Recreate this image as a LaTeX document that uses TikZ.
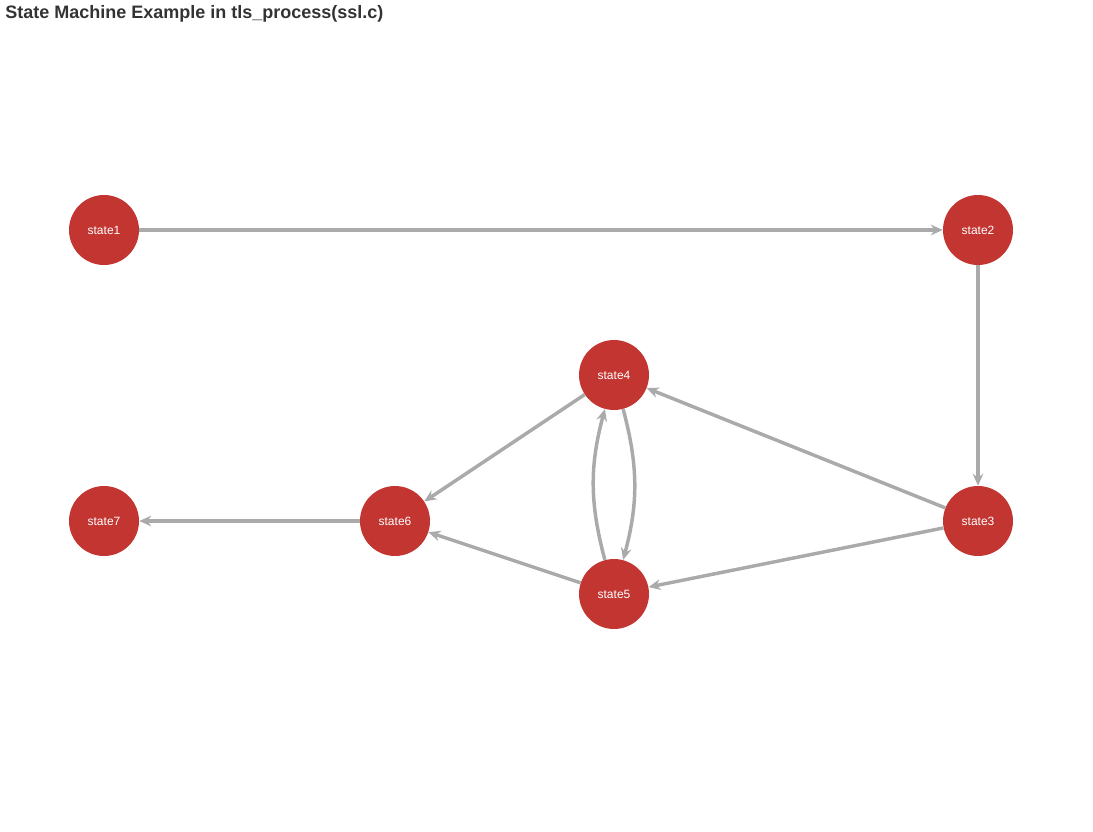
\documentclass[tikz,border=0pt]{standalone}
\usepackage{fontspec}
\setmainfont{Liberation Sans}
\usetikzlibrary{arrows.meta}

\definecolor{statered}{HTML}{C23531}
\definecolor{edgegray}{HTML}{AAAAAA}
\definecolor{titlegray}{HTML}{333333}

\tikzset{
	statenode/.style = {circle, fill=statered, minimum size=52.5pt, inner sep=0pt, text=white, font=\fontsize{9}{10}\selectfont},
	edge/.style = {draw=edgegray, line width=2.6pt, -{Stealth[length=9pt, width=8pt, inset=3pt]}}
}

\begin{document}
\begin{tikzpicture}[x=0.75pt, y=-0.75pt]
	\useasboundingbox (0,0) rectangle (1093,832);
	\node[anchor=west, inner sep=0pt, text=titlegray, font=\bfseries\fontsize{13.5}{15}\selectfont] (title) at (5,14) {State Machine Example in tls\_process(ssl.c)};
	
	\node[statenode] (state1) at (104,230) {state1};
	\node[statenode] (state2) at (978,230) {state2};
	\node[statenode] (state3) at (978,521) {state3};
	\node[statenode] (state4) at (614,375) {state4};
	\node[statenode] (state5) at (614,594) {state5};
	\node[statenode] (state6) at (395,521) {state6};
	\node[statenode] (state7) at (104,521) {state7};
	
	\draw[edge] (state1) -- (state2);
	\draw[edge] (state2) -- (state3);
	\draw[edge] (state3) -- (state4);
	\draw[edge] (state3) -- (state5);
	\draw[edge] (state4) -- (state6);
	\draw[edge] (state5) -- (state6);
	\draw[edge] (state6) -- (state7);
	\draw[edge] (state4) to[bend left=15] (state5);
	\draw[edge] (state5) to[bend left=15] (state4);
	
\end{tikzpicture}
\end{document}
